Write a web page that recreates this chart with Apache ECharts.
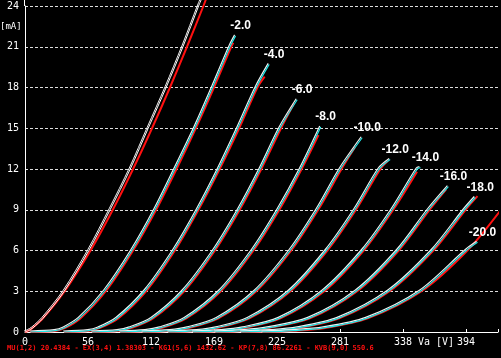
<!DOCTYPE html>
<html><head><meta charset="utf-8">
<style>html,body{margin:0;padding:0;background:#000;overflow:hidden}#c{width:501px;height:358px}</style>
<script src="https://cdn.jsdelivr.net/npm/echarts@6/dist/echarts.min.js"></script>
</head><body><div id="c"></div>
<script>
const xTickLabels = ['0','56','112','169','225','281','338','394'];
const yTickLabels = ['0','3','6','9','12','15','18','21','24'];
const curveLabels = ['', '-2.0','-4.0','-6.0','-8.0','-10.0','-12.0','-14.0','-16.0','-18.0','-20.0'];
const footerText = 'MU(1,2) 20.4384 - EX(3,4) 1.38303 - KG1(5,6) 1432.62 - KP(7,8) 86.2261 - KVB(9,0) 550.6';

// measured curves [Va, Ia mA]
const meas0  = [[0,0],[3,0.1],[7,0.3],[16,1],[35,3],[57,6],[76,9],[94,12],[110,15],[126,18],[141,21],[155,24],[158,24.6]];
const meas2  = [[5,0],[27,0.1],[35,0.3],[48.5,1],[71,3],[95.5,6],[116,9],[134,12],[151.5,15],[167.5,18],[183,21],[188,21.8]];
const meas4  = [[35,0],[57,0.1],[66,0.3],[82,1],[107,3],[132.8,6],[154,9],[172.8,12],[190,15],[206.5,18],[218,19.7]];
const meas6  = [[60,0],[83,0.1],[94,0.3],[113.3,1],[141,3],[168.6,6],[190.7,9],[210,12],[227.6,15],[243,17.1]];
const meas8  = [[85,0],[108,0.1],[121,0.3],[143,1],[173.8,3],[203,6],[226,9],[246,12],[264,15.1]];
const meas10 = [[105,0],[130,0.1],[145.6,0.3],[171.6,1],[205.5,3],[236.7,6],[260.8,9],[281.6,12],[301,14.3]];
const meas12 = [[128,0],[154,0.1],[171,0.3],[199.3,1],[236,3],[269,6],[294.5,9],[316.3,12],[326,12.7]];
const meas14 = [[150,0],[176,0.1],[195,0.3],[227,1],[266,3],[301.4,6],[327.8,9],[350.2,12],[353,12.1]];
const meas16 = [[170,0],[196,0.1],[217,0.3],[253.3,1],[295.6,3],[332.7,6],[360.3,9],[378,10.7]];
const meas18 = [[193,0],[220,0.1],[243.7,0.3],[279.5,1],[324.5,3],[363.6,6],[392.4,9],[402,9.9]];
const meas20 = [[212,0],[240,0.1],[267,0.3],[305,1],[353,3],[394,6],[404,6.6]];

// model curves [Va, Ia mA]
const model0  = [[0,0],[3,0.1],[6.7,0.3],[16,1],[35.4,3],[58.5,6],[78.4,9],[96.5,12],[113.4,15],[129.4,18],[144.6,21],[159.3,24],[162,24.6]];
const model2  = [[5,0],[28,0.1],[36,0.3],[49.4,1],[72.1,3],[96.5,6],[117.1,9],[135.3,12],[152.5,15],[168.7,18],[184.1,21],[186,21.3]];
const model4  = [[35,0],[58,0.1],[67,0.3],[83.2,1],[108.1,3],[133.8,6],[154.9,9],[173.8,12],[191.2,15],[207.5,18],[214,18.8]];
const model6  = [[60,0],[84,0.1],[95.2,0.3],[114.3,1],[142.1,3],[169.6,6],[191.7,9],[211,12],[228.6,15],[240,16.8]];
const model8  = [[85,0],[109,0.1],[122,0.3],[144,1],[174.8,3],[204,6],[227.1,9],[247,12],[262,14.5]];
const model10 = [[105,0],[131,0.1],[146.6,0.3],[172.6,1],[206.5,3],[237.7,6],[261.8,9],[282.6,12],[294.6,13.6]];
const model12 = [[128,0],[155,0.1],[172.2,0.3],[200.3,1],[237,3],[270,6],[295.5,9],[317.3,12],[324,12.6]];
const model14 = [[150,0],[177,0.1],[196,0.3],[228,1],[267.2,3],[302.4,6],[328.8,9],[350,11.8]];
const model16 = [[170,0],[197,0.1],[218,0.3],[254.3,1],[296.6,3],[333.7,6],[361.3,9],[376,10.5]];
const model18 = [[193,0],[221,0.1],[244.7,0.3],[280.5,1],[325.5,3],[364.6,6],[393.4,9],[404,10.0]];
const model20 = [[212,0],[241,0.1],[268,0.3],[306,1],[354,3],[395,6],[424,8.9]];

const measured = [meas0,meas2,meas4,meas6,meas8,meas10,meas12,meas14,meas16,meas18,meas20];
const models = [model0,model2,model4,model6,model8,model10,model12,model14,model16,model18,model20];

const XSTEP = 56.25;
const series = [];
models.forEach((d,i)=>{
  series.push({type:'line', data:d, showSymbol:false, smooth:0.3, clip:false, silent:true, z:2,
    lineStyle:{color:'#ff1010', width:2}});
});
measured.forEach((d,i)=>{
  series.push({type:'line', data:d, showSymbol:false, smooth:0.3, clip:false, silent:true, z:3,
    lineStyle:{color: i===0 ? '#ffffff' : '#20e8e8', width: i===0?1:1.2,
      shadowColor:'#f0f0f0', shadowBlur:0, shadowOffsetX:-1, shadowOffsetY:-1},
    endLabel:{show: i>0, formatter: ()=>curveLabels[i], align:'center', verticalAlign:'bottom',
      distance:5, padding:[0,0,4,0],
      color:'#ffffff', fontWeight:'bold', fontSize:12, fontFamily:'Liberation Sans, Arial'}});
});

const chart = echarts.init(document.getElementById('c'), null, {renderer:'canvas'});
chart.setOption({
  animation:false,
  backgroundColor:'#000000',
  grid:{left:25, right:0, top:6, bottom:26, containLabel:false},
  xAxis:{type:'value', min:0, max:422.3, interval:XSTEP,
    axisLine:{show:true, lineStyle:{color:'#ffffff', width:1}},
    axisTick:{show:true, inside:true, length:3, lineStyle:{color:'#ffffff'}},
    splitLine:{show:false},
    axisLabel:{color:'#ffffff', fontFamily:'DejaVu Sans Mono', fontSize:10, margin:5,
      formatter:(v)=>{const k=Math.round(v/XSTEP); return Math.abs(k*XSTEP-v)<0.01 ? (xTickLabels[k] ?? '') : '';}}},
  yAxis:{type:'value', min:0, max:24, interval:3,
    axisLine:{show:true, lineStyle:{color:'#ffffff', width:1}},
    axisTick:{show:false},
    splitLine:{show:true, lineStyle:{color:'#dddddd', type:[3,2], width:1}},
    axisLabel:{color:'#ffffff', fontFamily:'DejaVu Sans Mono', fontSize:10, margin:6,
      formatter:(v)=>yTickLabels[Math.round(v/3)] ?? ''}},
  graphic:[
    {type:'text', left:0, top:22, style:{text:'[mA]', fill:'#ffffff', font:'9px DejaVu Sans Mono'}},
    {type:'text', left:418, top:337, style:{text:'Va [V]', fill:'#ffffff', font:'10px DejaVu Sans Mono'}},
    {type:'text', left:7, top:345, style:{text:footerText, fill:'#ff1010', font:'bold 7px DejaVu Sans Mono'}},
    {type:'line', shape:{x1:24.5,y1:0,x2:24.5,y2:6}, style:{stroke:'#ffffff', lineWidth:1}}
  ],
  series:series
});
</script></body></html>
